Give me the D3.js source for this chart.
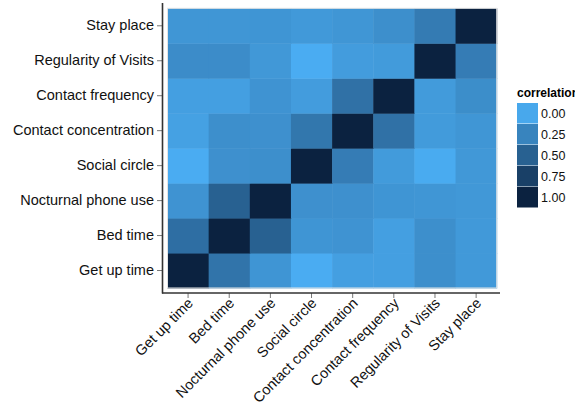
<!DOCTYPE html>
<html>
<head>
<meta charset="utf-8">
<script src="https://cdn.jsdelivr.net/npm/d3@7"></script>
<style>
  body { margin: 0; background: #fff; }
  text { font-family: "Liberation Sans", Arial, sans-serif; }
</style>
</head>
<body>
<div class="chart"></div>
<script>
// variables, in axis order (bottom -> top on y, left -> right on x)
const variables = ["Get up time", "Bed time", "Nocturnal phone use", "Social circle",
                   "Contact concentration", "Contact frequency", "Regularity of Visits", "Stay place"];

// correlation matrix, rows follow `variables`
const corrGetUp      = [1.00, 0.36, 0.13, -0.03, 0.06, 0.06, 0.17, 0.10];
const corrBed        = [0.40, 1.00, 0.50, 0.13, 0.14, 0.06, 0.17, 0.10];
const corrNocturnal  = [0.14, 0.50, 1.00, 0.16, 0.16, 0.13, 0.12, 0.11];
const corrSocial     = [-0.03, 0.16, 0.17, 1.00, 0.30, 0.09, -0.02, 0.11];
const corrConcentr   = [0.05, 0.17, 0.16, 0.34, 1.00, 0.38, 0.09, 0.12];
const corrFrequency  = [0.06, 0.06, 0.14, 0.08, 0.38, 1.00, 0.09, 0.18];
const corrRegularity = [0.19, 0.19, 0.11, -0.03, 0.08, 0.09, 1.00, 0.30];
const corrStay       = [0.12, 0.12, 0.13, 0.10, 0.12, 0.17, 0.31, 1.00];
const corrRows = [corrGetUp, corrBed, corrNocturnal, corrSocial, corrConcentr, corrFrequency, corrRegularity, corrStay];

const legendBreaks = [0, 0.25, 0.5, 0.75, 1];

const width = 575, height = 409;
const svg = d3.select(".chart").append("svg")
    .attr("width", width).attr("height", height);

const x = d3.scaleBand().domain(variables).range([167.5, 496.7]);
const y = d3.scaleBand().domain(variables).range([288, 8.3]);

const color = d3.scaleLinear()
    .domain([0, 1])
    .range(["#48a8ec", "#0b2240"])
    .interpolate(d3.interpolateLab);

const cells = [];
corrRows.forEach((row, i) => row.forEach((v, j) => cells.push({row: variables[i], col: variables[j], v: v})));

svg.append("g").selectAll("rect")
   .data(cells)
   .enter()
   .append("rect")
   .attr("x", d => x(d.col))
   .attr("y", d => y(d.row))
   .attr("width", x.bandwidth() + 0.5)
   .attr("height", y.bandwidth() + 0.5)
   .attr("fill", d => color(d.v));

// faint panel border
svg.append("rect")
   .attr("x", 167.5).attr("y", 8.3)
   .attr("width", 496.7 - 167.5).attr("height", 288 - 8.3)
   .attr("fill", "none").attr("stroke", "#e4e4e4").attr("stroke-width", 1);

// axes
const yAxis = d3.axisLeft(y).tickSize(5).tickPadding(3);
const gy = svg.append("g").attr("transform", "translate(162,0)").call(yAxis);
gy.select(".domain").remove();
gy.selectAll(".tick line").attr("stroke", "#777");
gy.selectAll("text").attr("font-size", 14.5).attr("fill", "#111");

const xAxis = d3.axisBottom(x).tickSize(5).tickPadding(3);
const gx = svg.append("g").attr("transform", "translate(0,293)").call(xAxis);
gx.select(".domain").remove();
gx.selectAll(".tick line").attr("stroke", "#777");
gx.selectAll("text")
  .attr("font-size", 14.5).attr("fill", "#111")
  .attr("text-anchor", "end")
  .attr("dy", null)
  .attr("y", 0)
  .attr("transform", "translate(6,11) rotate(-45)");

svg.append("line").attr("x1", 162.5).attr("x2", 162.5).attr("y1", 3).attr("y2", 293.5)
   .attr("stroke", "#333").attr("stroke-width", 1.6);
svg.append("line").attr("x1", 162).attr("x2", 500).attr("y1", 293).attr("y2", 293)
   .attr("stroke", "#333").attr("stroke-width", 1.6);

// legend
const legend = svg.append("g").attr("transform", "translate(517,0)");
legend.append("text")
   .attr("x", 0).attr("y", 97)
   .attr("font-size", 12).attr("font-weight", "bold")
   .text("correlation");
legend.selectAll("rect")
   .data(legendBreaks)
   .enter()
   .append("rect")
   .attr("x", 0)
   .attr("y", (d, i) => 103 + i * 21)
   .attr("width", 21).attr("height", 20.5)
   .attr("fill", d => color(d));
legend.selectAll(".lab")
   .data(legendBreaks)
   .enter()
   .append("text")
   .attr("class", "lab")
   .attr("x", 24)
   .attr("y", (d, i) => 103 + i * 21 + 10.5)
   .attr("dy", "0.35em")
   .attr("font-size", 12.5)
   .attr("fill", "#111")
   .text(d => d3.format(".2f")(d));
</script>
</body>
</html>
